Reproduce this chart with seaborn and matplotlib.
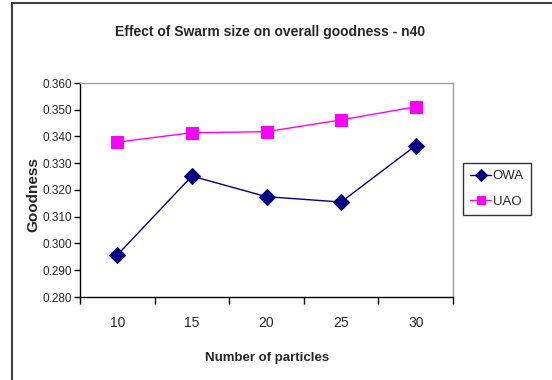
import matplotlib
matplotlib.use("Agg")
import matplotlib.pyplot as plt
import seaborn as sns
import pandas as pd
from matplotlib.patches import Rectangle
from matplotlib.ticker import FixedLocator, MultipleLocator, FormatStrFormatter

categories = ["10", "15", "20", "25", "30"]
owa = [0.2957, 0.3252, 0.3175, 0.3155, 0.3366]
uao = [0.3379, 0.3414, 0.3418, 0.3462, 0.3511]

sns.set_style("white")
plt.rcParams['font.family'] = ['Liberation Sans Narrow', 'Liberation Sans', 'DejaVu Sans']

fig = plt.figure(figsize=(5.52, 3.80), dpi=100)
ax = fig.add_axes([80/552, 1-297/380, (453-80)/552, (297-83)/380])

pos = list(range(len(categories)))
df_owa = pd.DataFrame({"x": pos, "y": owa})
df_uao = pd.DataFrame({"x": pos, "y": uao})
sns.lineplot(data=df_owa, x="x", y="y", ax=ax, color="#000080", marker="D",
             markersize=8, markeredgecolor="#000080", linewidth=1, label="OWA")
sns.lineplot(data=df_uao, x="x", y="y", ax=ax, color="#FF00FF", marker="s",
             markersize=8, markeredgecolor="#FF00FF", linewidth=1, label="UAO")

ax.set_xlim(-0.5, 4.5)
ax.set_ylim(0.280, 0.360)
ax.yaxis.set_major_locator(MultipleLocator(0.01))
ax.yaxis.set_major_formatter(FormatStrFormatter("%.3f"))
ax.set_xticks(pos)
ax.set_xticklabels(categories)
ax.xaxis.set_minor_locator(FixedLocator([-0.5, 0.5, 1.5, 2.5, 3.5, 4.5]))
ax.tick_params(axis="x", which="major", length=0, pad=14, labelsize=10)
ax.tick_params(axis="x", which="minor", length=5, width=1, color="black", direction="out", bottom=True)
ax.tick_params(axis="y", which="major", length=4, width=1, color="black", direction="out", left=True, labelsize=8.5, pad=2)

for s in ["left", "bottom"]:
    ax.spines[s].set_color("black")
    ax.spines[s].set_linewidth(1)
for s in ["top", "right"]:
    ax.spines[s].set_color("#A0A0A0")
    ax.spines[s].set_linewidth(1)

ax.set_xlabel("Number of particles", fontsize=9.5, fontweight="bold")
ax.xaxis.set_label_coords((267-80)/373, -(352-297)/214)
ax.set_ylabel("Goodness", fontsize=11, fontweight="bold")
ax.yaxis.set_label_coords(-(80-40)/373, 0.48)
fig.text(270/552, 1-32/380, "Effect of Swarm size on overall goodness - n40",
         ha="center", va="center", fontsize=10, fontweight="bold")

leg = ax.legend(loc="upper left", bbox_to_anchor=(463/552, 1-163/380), bbox_transform=fig.transFigure,
                frameon=True, fancybox=False, edgecolor="black", fontsize=9.5,
                handlelength=1.6, handletextpad=0.1, borderpad=0.55, labelspacing=1.0,
                borderaxespad=0, markerscale=0.8)
leg.get_frame().set_linewidth(1)

fig.patches.append(Rectangle((12/552, -0.1), 1.2, (1-3/380)+0.1, transform=fig.transFigure,
                             fill=False, edgecolor="#404040", linewidth=1.5))

fig.savefig("out.png", dpi=100)
